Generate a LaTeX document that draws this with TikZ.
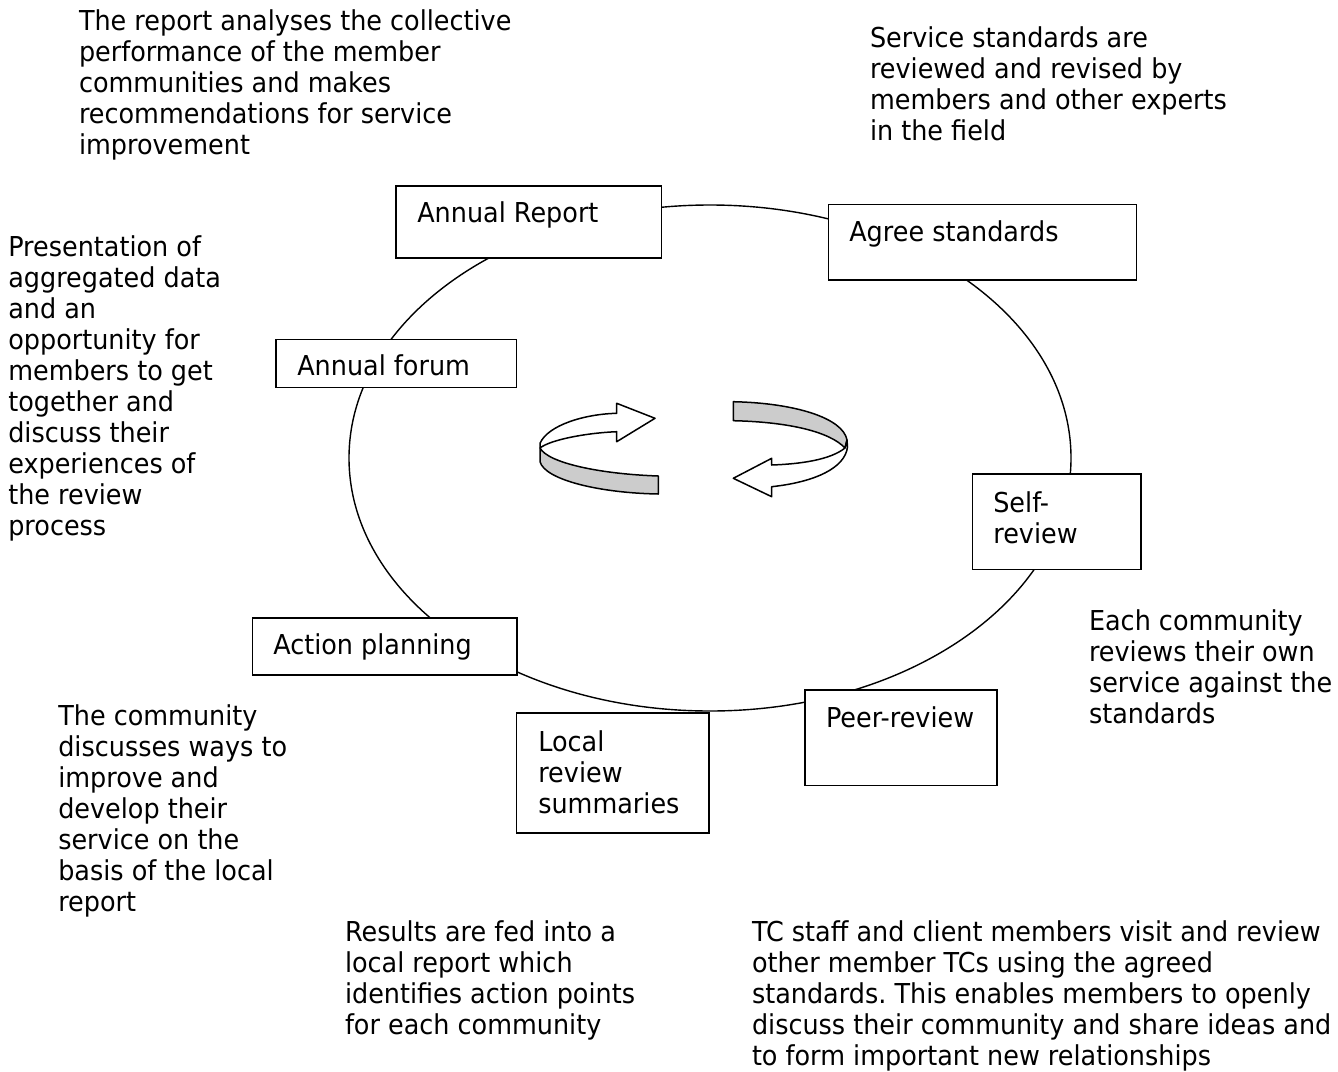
\documentclass[tikz,border=0pt]{standalone}
\usepackage{fontspec}
\setmainfont{DejaVu Sans}[FakeStretch=0.93]
\frenchspacing
\newcommand\mylines[1]{\begin{tabular}[t]{@{}l@{}}#1\end{tabular}}
\tikzset{
  txt/.style={anchor=base west, inner sep=0pt, outer sep=0pt, font=\fontsize{27.4}{31}\selectfont},
  stagebox/.style={draw, fill=white, line width=1.9pt, anchor=north west, inner sep=0pt, outer sep=0pt},
  cyc/.style={line width=1.4pt},
  ribbon/.style={draw, line width=1.5pt, line join=round},
}
\begin{document}
\begin{tikzpicture}[x=1pt,y=-1pt]
\useasboundingbox (0,0) rectangle (1338,1071);
% cycle ellipse
\draw[cyc] (710,458) ellipse [x radius=361, y radius=253];
% boxes
\node[stagebox, minimum width=265.5pt, minimum height=72pt] (ar) at (396,186) {};
\node[stagebox, minimum width=308pt, minimum height=75.5pt] (as) at (828.5,204.5) {};
\node[stagebox, minimum width=240.5pt, minimum height=48pt] (af) at (276,339.5) {};
\node[stagebox, minimum width=168.5pt, minimum height=95.5pt] (sr) at (972.5,474) {};
\node[stagebox, minimum width=264.5pt, minimum height=57pt] (ap) at (252.5,618) {};
\node[stagebox, minimum width=192.5pt, minimum height=120pt] (ls) at (516.5,713) {};
\node[stagebox, minimum width=192pt, minimum height=95.5pt] (pr) at (805,690) {};
% box texts
\node[txt] (ar-t) at (417.3,222.5) {Annual Report};
\node[txt] (as-t) at (849.3,241) {Agree standards};
\node[txt] (af-t) at (297.3,375.5) {Annual forum};
\node[txt] (sr-t) at (993.3,512) {\mylines{Self-\\review}};
\node[txt] (ap-t) at (273.3,654) {Action planning};
\node[txt] (ls-t) at (538.3,751) {\mylines{Local\\review\\summaries}};
\node[txt] (pr-t) at (826,727) {Peer-review};
% descriptions
\node[txt] (d1) at (79,30) {\mylines{The report analyses the collective\\performance of the member\\communities and makes\\recommendations for service\\improvement}};
\node[txt] (d2) at (870,47) {\mylines{Service standards are\\reviewed and revised by\\members and other experts\\in the field}};
\node[txt] (d3) at (8.3,256.5) {\mylines{Presentation of\\aggregated data\\and an\\opportunity for\\members to get\\together and\\discuss their\\experiences of\\the review\\process}};
\node[txt] (d4) at (1089,630) {\mylines{Each community\\reviews their own\\service against the\\standards}};
\node[txt] (d5) at (58.3,725.5) {\mylines{The community\\discusses ways to\\improve and\\develop their\\service on the\\basis of the local\\report}};
\node[txt] (d6) at (345,941) {\mylines{Results are fed into a\\local report which\\identifies action points\\for each community}};
\node[txt] (d7) at (752,941) {\mylines{TC staff and client members visit and review\\other member TCs using the agreed\\standards. This enables members to openly\\discuss their community and share ideas and\\to form important new relationships}};
% left circular arrow
\path[ribbon, fill=gray!40] (540,448) .. controls (548,463) and (600,474) .. (658.3,476) -- (658.3,494)
  .. controls (600,493) and (545,480) .. (540,461.7) -- cycle;
\path[ribbon, fill=white] (540,448) -- (540,443.3) .. controls (548,425) and (585,414) .. (616.7,413.3)
  -- (616.7,403.3) -- (655,418.3) -- (616.7,441.7) -- (616.7,431.7)
  .. controls (585,433) and (550,440) .. (540,448) -- cycle;
% right circular arrow
\path[ribbon, fill=gray!40] (733.3,401.7) .. controls (795,403) and (843,418) .. (847,440) -- (845,448)
  .. controls (830,432) and (790,422) .. (733.3,420.7) -- cycle;
\path[ribbon, fill=white] (845,448) .. controls (830,460) and (800,464) .. (771.7,465)
  -- (771.7,458.3) -- (733.3,478.3) -- (771.7,496.7) -- (771.7,486.7)
  .. controls (815,482) and (845,468) .. (847.5,447) -- (847,440) -- cycle;
\end{tikzpicture}
\end{document}
